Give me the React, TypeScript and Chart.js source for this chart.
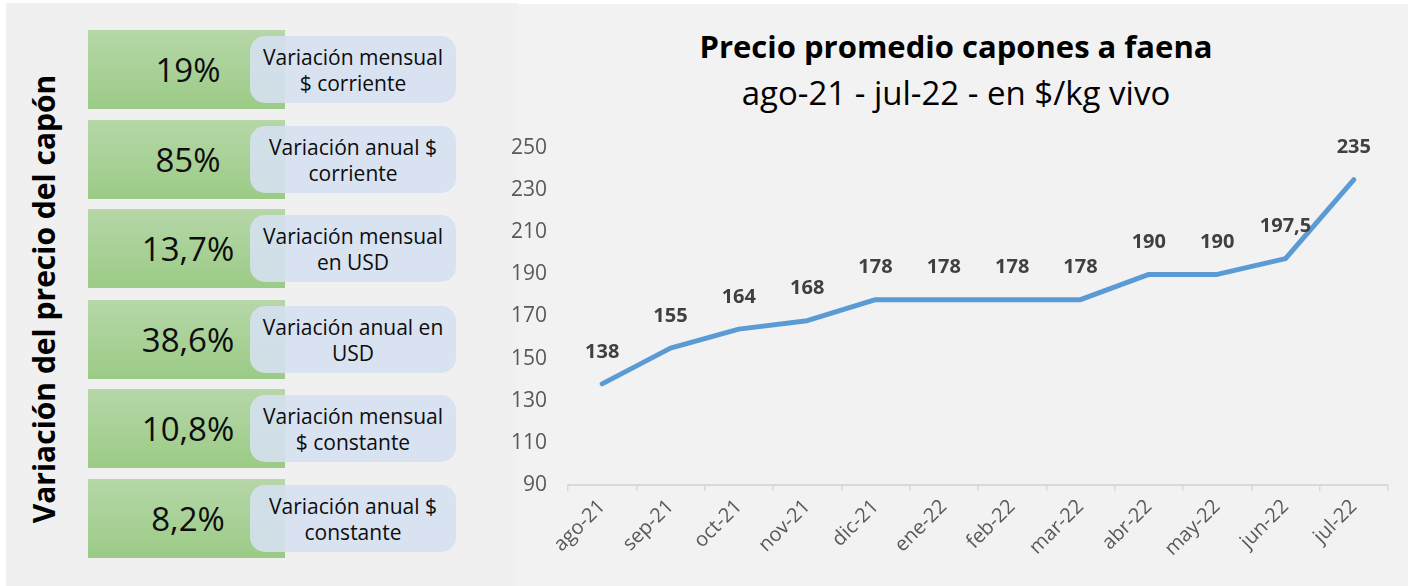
import React, { useEffect, useRef } from "react";
import { Chart, registerables } from "chart.js";

Chart.register(...registerables);

const categories = ["ago-21", "sep-21", "oct-21", "nov-21", "dic-21", "ene-22", "feb-22", "mar-22", "abr-22", "may-22", "jun-22", "jul-22"];
const prices = [138, 155, 164, 168, 178, 178, 178, 178, 190, 190, 197.5, 235];
const yTicks = [90, 110, 130, 150, 170, 190, 210, 230, 250];

const percentValues = ["19%", "85%", "13,7%", "38,6%", "10,8%", "8,2%"];
const percentLabels = [
  ["Variación mensual", "$ corriente"],
  ["Variación anual $", "corriente"],
  ["Variación mensual", "en USD"],
  ["Variación anual en", "USD"],
  ["Variación mensual", "$ constante"],
  ["Variación anual $", "constante"],
];
const rowTops = [30, 120, 209, 300, 389, 479];

const chartTitle = "Precio promedio capones a faena";
const chartSubtitle = "ago-21 - jul-22 - en $/kg vivo";
const sideTitle = "Variación del precio del capón";

const FONT = "'Open Sans', Lato, sans-serif";

const fmt = (v: number) => String(v).replace(".", ",");

const dataLabelPlugin = {
  id: "dataLabels",
  afterDatasetsDraw(chart: any) {
    const ctx = chart.ctx;
    const meta = chart.getDatasetMeta(0);
    const ds = chart.data.datasets[0];
    ctx.save();
    ctx.font = `bold 20px ${FONT}`;
    ctx.fillStyle = "#404040";
    ctx.textAlign = "center";
    ctx.textBaseline = "middle";
    meta.data.forEach((pt: any, i: number) => {
      ctx.fillText(fmt(ds.data[i] as number), pt.x, pt.y - 32);
    });
    ctx.restore();
  },
};

const CANVAS_LEFT = 497;
const CANVAS_TOP = 4;
const CANVAS_W = 1408 - CANVAS_LEFT;
const CANVAS_H = 582;

function PriceChart() {
  const ref = useRef<HTMLCanvasElement | null>(null);
  useEffect(() => {
    if (!ref.current) return;
    const chart = new Chart(ref.current, {
      type: "line",
      data: {
        labels: categories,
        datasets: [
          {
            data: prices,
            borderColor: "#5b9bd5",
            borderWidth: 5,
            pointRadius: 0,
            tension: 0,
            borderCapStyle: "round",
            borderJoinStyle: "round",
          },
        ],
      },
      options: {
        responsive: false,
        animation: false,
        layout: { padding: { left: 0, right: 20, top: 144, bottom: 0 } },
        plugins: {
          legend: { display: false },
          tooltip: { enabled: false },
          title: { display: false },
        },
        scales: {
          x: {
            offset: true,
            grid: {
              display: true,
              offset: true,
              drawOnChartArea: false,
              drawTicks: true,
              tickLength: 6,
              color: "#d9d9d9",
              lineWidth: 1.5,
            },
            border: { display: true, color: "#d9d9d9", width: 2 },
            ticks: {
              color: "#595959",
              font: { family: FONT, size: 20 },
              minRotation: 45,
              maxRotation: 45,
              padding: 4,
              autoSkip: false,
            },
            afterFit: (s: any) => {
              s.height = 101;
            },
          },
          y: {
            min: 90,
            max: 250,
            afterBuildTicks: (s: any) => {
              s.ticks = yTicks.map((v) => ({ value: v }));
            },
            grid: { display: false },
            border: { display: false },
            ticks: {
              color: "#595959",
              font: { family: FONT, size: 21 },
              padding: 13,
            },
            afterFit: (s: any) => {
              s.width = 568 - CANVAS_LEFT;
            },
          },
        },
      },
      plugins: [dataLabelPlugin],
    });
    return () => chart.destroy();
  }, []);
  return (
    <canvas
      ref={ref}
      width={CANVAS_W}
      height={CANVAS_H}
      style={{ position: "absolute", left: CANVAS_LEFT, top: CANVAS_TOP, width: CANVAS_W, height: CANVAS_H, display: "block" }}
    />
  );
}

export default function App() {
  return (
    <div style={{ position: "fixed", left: 0, top: 0, width: 1408, height: 586, background: "#ffffff", overflow: "hidden" }}>
      <div style={{ position: "absolute", left: 6, top: 3, width: 511, height: 583, background: "#f0f0f0" }} />
      <div style={{ position: "absolute", left: 517, top: 4, width: 891, height: 582, background: "#f2f2f2" }} />
      <div
        style={{
          position: "absolute",
          left: 956,
          top: 31,
          transform: "translateX(-50%)",
          whiteSpace: "nowrap",
          fontFamily: FONT,
          fontWeight: "bold",
          fontSize: 31,
          lineHeight: "31px",
          color: "#000000",
        }}
      >
        {chartTitle}
      </div>
      <div
        style={{
          position: "absolute",
          left: 956,
          top: 75.5,
          transform: "translateX(-50%)",
          whiteSpace: "nowrap",
          fontFamily: FONT,
          fontWeight: "normal",
          fontSize: 33,
          lineHeight: "33px",
          color: "#000000",
        }}
      >
        {chartSubtitle}
      </div>
      <div
        style={{
          position: "absolute",
          left: 43,
          top: 299,
          transform: "translate(-50%, -50%) rotate(-90deg)",
          whiteSpace: "nowrap",
          fontFamily: "'Open Sans', sans-serif",
          fontWeight: "bold",
          fontSize: 30,
          color: "#000000",
        }}
      >
        {sideTitle}
      </div>
      {rowTops.map((top, i) => (
        <React.Fragment key={i}>
          <div
            style={{
              position: "absolute",
              left: 88,
              top,
              width: 197,
              height: 79,
              background: "linear-gradient(#b6d7a8, #9bcb86)",
            }}
          />
          <div
            style={{
              position: "absolute",
              left: 88,
              top,
              width: 200,
              height: 79,
              display: "flex",
              alignItems: "center",
              justifyContent: "center",
              fontFamily: FONT,
              fontSize: 33,
              color: "#0d0d0d",
            }}
          >
            {percentValues[i]}
          </div>
          <div
            style={{
              position: "absolute",
              left: 250,
              top: top + 6,
              width: 206,
              height: 67,
              borderRadius: 15,
              background: "rgba(213, 224, 239, 0.9)",
              display: "flex",
              flexDirection: "column",
              alignItems: "center",
              justifyContent: "center",
              fontFamily: FONT,
              fontSize: 21,
              lineHeight: "26px",
              color: "#0d0d0d",
            }}
          >
            <div>{percentLabels[i][0]}</div>
            <div>{percentLabels[i][1]}</div>
          </div>
        </React.Fragment>
      ))}
      <PriceChart />
    </div>
  );
}
